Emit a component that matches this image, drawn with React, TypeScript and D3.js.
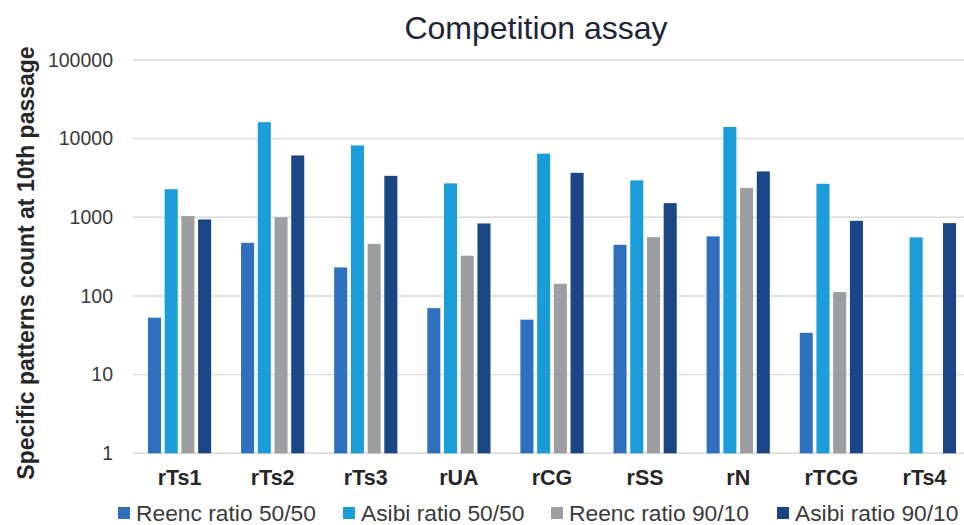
import React from "react";
import * as d3 from "d3";

const categories = ["rTs1", "rTs2", "rTs3", "rUA", "rCG", "rSS", "rN", "rTCG", "rTs4"];
const seriesNames = ["Reenc ratio 50/50", "Asibi ratio 50/50", "Reenc ratio 90/10", "Asibi ratio 90/10"];
const reenc5050: (number | null)[] = [53, 474, 231, 70, 50, 447, 572, 34, null];
const asibi5050: (number | null)[] = [2280, 16200, 8200, 2700, 6450, 2950, 14100, 2670, 556];
const reenc9010: (number | null)[] = [1036, 1000, 460, 325, 143, 560, 2370, 112, null];
const asibi9010: (number | null)[] = [940, 6120, 3370, 836, 3680, 1515, 3830, 903, 844];
const yTicks = [1, 10, 100, 1000, 10000, 100000];
const colors = ["#2E70BE", "#1B9DD9", "#9C9EA2", "#1B4686"];

const W = 964;
const H = 525;

export default function App() {
  const seriesValues = [reenc5050, asibi5050, reenc9010, asibi9010];
  const y = d3.scaleLog().domain([1, 100000]).range([453.3, 60]);
  const x = d3.scaleBand<string>().domain(categories).range([133, 971]).padding(0);
  const xi = d3.scaleBand<string>().domain(seriesNames).range([-31.6, 31.6]).paddingInner(0.22);
  const legendX = [118, 343, 551, 777];
  const font = "'Liberation Sans', Arial, sans-serif";

  return (
    <svg width={W} height={H} style={{ position: "absolute", left: 0, top: 0, background: "#fff" }} fontFamily={font}>
      <rect x={0} y={0} width={W} height={H} fill="#fff" />
      <text x={536} y={39} textAnchor="middle" fontSize={32} fill="#1d2538">Competition assay</text>
      {yTicks.map((t) => (
        <g key={t}>
          <line x1={133} x2={W} y1={y(t)} y2={y(t)} stroke="#d9d9d9" strokeWidth={1.4} />
          <text x={113} y={y(t)} dy="0.35em" textAnchor="end" fontSize={19.5} fill="#3a3a3a">{t}</text>
        </g>
      ))}
      {categories.map((c, ci) => {
        const cx = (x(c) as number) + x.bandwidth() / 2;
        return (
          <g key={c}>
            {seriesNames.map((s, si) => {
              const v = seriesValues[si][ci];
              if (v == null) return null;
              const bx = cx + (xi(s) as number);
              return (
                <rect key={s} x={bx} y={y(v)} width={xi.bandwidth()} height={y(1) - y(v)} fill={colors[si]} />
              );
            })}
            <text x={cx} y={485} textAnchor="middle" fontSize={21.5} fontWeight="bold" fill="#262626">{c}</text>
          </g>
        );
      })}
      <text transform="translate(34,263) rotate(-90)" textAnchor="middle" fontSize={23} fontWeight="bold" fill="#262626">
        Specific patterns count at 10th passage
      </text>
      {seriesNames.map((s, si) => (
        <g key={s} transform={`translate(${legendX[si]},0)`}>
          <rect x={0} y={507} width={12} height={12} fill={colors[si]} />
          <text x={18} y={520.5} fontSize={22.8} fill="#3a3a3a">{s}</text>
        </g>
      ))}
    </svg>
  );
}
